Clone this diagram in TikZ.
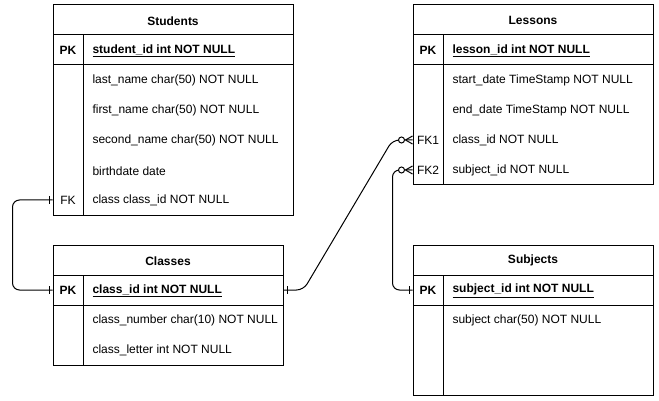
\documentclass[tikz,border=0pt]{standalone}
\usepackage{fontspec}
\setmainfont{Liberation Sans}
\usetikzlibrary{calc}
\begin{document}
\begin{tikzpicture}[x=1pt,y=-1pt, line width=1pt,
  every node/.style={font=\fontsize{12}{14}\selectfont},
  tbl/.style={draw, inner sep=0pt},
  title/.style={yshift=-0.8pt, font=\fontsize{12}{14}\selectfont\bfseries},
  keycell/.style={minimum width=30, minimum height=30, inner sep=0pt, font=\fontsize{12}{14}\selectfont\bfseries},
  field/.style={anchor=west, inner sep=0pt, yshift=-0.8pt},
  rel/.style={rounded corners=7pt}]
  \useasboundingbox (0,0) rectangle (659,401);

  % Students
  \node[tbl, minimum width=240, minimum height=210] (students) at (173,110) {};
  \draw (53,35) -- (293,35) (53,65) -- (293,65) (83,35) -- (83,215);
  \node[title] (stutitle) at (173,20) {Students};
  \node[keycell] (stupk) at (68,50) {\raisebox{-0.8pt}{PK}};
  \node[field] (stuid) at (92,50) {\bfseries\underline{student\_id int NOT NULL}};
  \node[field] (stulast) at (92,80) {last\_name char(50) NOT NULL};
  \node[field] (stufirst) at (92,110) {first\_name char(50) NOT NULL};
  \node[field] (stusecond) at (92,140) {second\_name char(50) NOT NULL};
  \node[field] (stubirth) at (92,170) {birthdate date};
  \node[keycell, font=\fontsize{12}{14}\selectfont] (stufk) at (68,200) {\raisebox{-0.8pt}{FK}};
  \node[field] (stuclass) at (92,200) {class class\_id NOT NULL};

  % Classes
  \node[tbl, minimum width=230, minimum height=120] (classes) at (168,305) {};
  \draw (53,275) -- (283,275) (53,305) -- (283,305) (83,275) -- (83,365);
  \node[title] (clstitle) at (168,260) {Classes};
  \node[keycell] (clspk) at (68,290) {\raisebox{-0.8pt}{PK}};
  \node[field] (clsid) at (92,290) {\bfseries\underline{class\_id int NOT NULL}};
  \node[field] (clsnumber) at (92,320) {class\_number char(10) NOT NULL};
  \node[field] (clsletter) at (92,350) {class\_letter int NOT NULL};

  % Lessons
  \node[tbl, minimum width=240, minimum height=180] (lessons) at (533,95) {};
  \draw (413,35) -- (653,35) (413,65) -- (653,65) (443,35) -- (443,185);
  \node[title] (lestitle) at (533,20) {Lessons};
  \node[keycell] (lespk) at (428,50) {\raisebox{-0.8pt}{PK}};
  \node[field] (lesid) at (452,50) {\bfseries\underline{lesson\_id int NOT NULL}};
  \node[field] (lesstart) at (452,80) {start\_date TimeStamp NOT NULL};
  \node[field] (lesend) at (452,110) {end\_date TimeStamp NOT NULL};
  \node[keycell, font=\fontsize{12}{14}\selectfont] (lesfk1) at (428,140) {\raisebox{-0.8pt}{FK1}};
  \node[field] (lesclass) at (452,140) {class\_id NOT NULL};
  \node[keycell, font=\fontsize{12}{14}\selectfont] (lesfk2) at (428,170) {\raisebox{-0.8pt}{FK2}};
  \node[field] (lessubject) at (452,170) {subject\_id NOT NULL};

  % Subjects
  \node[tbl, minimum width=240, minimum height=150] (subjects) at (533,320) {};
  \draw (413,275) -- (653,275) (413,305) -- (653,305) (443,275) -- (443,395);
  \node[title] (subtitle) at (533,260) {Subjects};
  \node[keycell] (subpk) at (428,290) {\raisebox{-0.8pt}{PK}};
  \node[field] (subid) at (452,290) {\bfseries\underline{subject\_id int NOT NULL}};
  \node[field] (subname) at (452,320) {subject char(50) NOT NULL};

  % Students.class -> Classes
  \draw[rel] (stufk.west) -- ++(-40,0) |- (clspk.west);
  \draw ($(stufk.west)+(-3,-4)$) -- ++(0,8);
  \draw ($(clspk.west)+(-3,-4)$) -- ++(0,8);

  % Classes -> Lessons.class_id
  \draw[rel] (classes.east |- clspk) -- ++(20,0) -- ($(lesfk1.west)+(-20,0)$) -- (lesfk1.west);
  \draw ($(classes.east |- clspk)+(4,-4)$) -- ++(0,8);
  \draw[fill=white] ($(lesfk1.west)+(-11,0)$) circle (3pt);
  \draw ($(lesfk1.west)+(-7,0)$) -- ($(lesfk1.west)+(0,-4)$)
        ($(lesfk1.west)+(-7,0)$) -- ($(lesfk1.west)+(0,4)$);

  % Lessons.subject_id -> Subjects
  \draw[rel] (lesfk2.west) -- ++(-20,0) |- (subpk.west);
  \draw ($(subpk.west)+(-3,-4)$) -- ++(0,8);
  \draw[fill=white] ($(lesfk2.west)+(-11,0)$) circle (3pt);
  \draw ($(lesfk2.west)+(-7,0)$) -- ($(lesfk2.west)+(0,-4)$)
        ($(lesfk2.west)+(-7,0)$) -- ($(lesfk2.west)+(0,4)$);
\end{tikzpicture}
\end{document}
